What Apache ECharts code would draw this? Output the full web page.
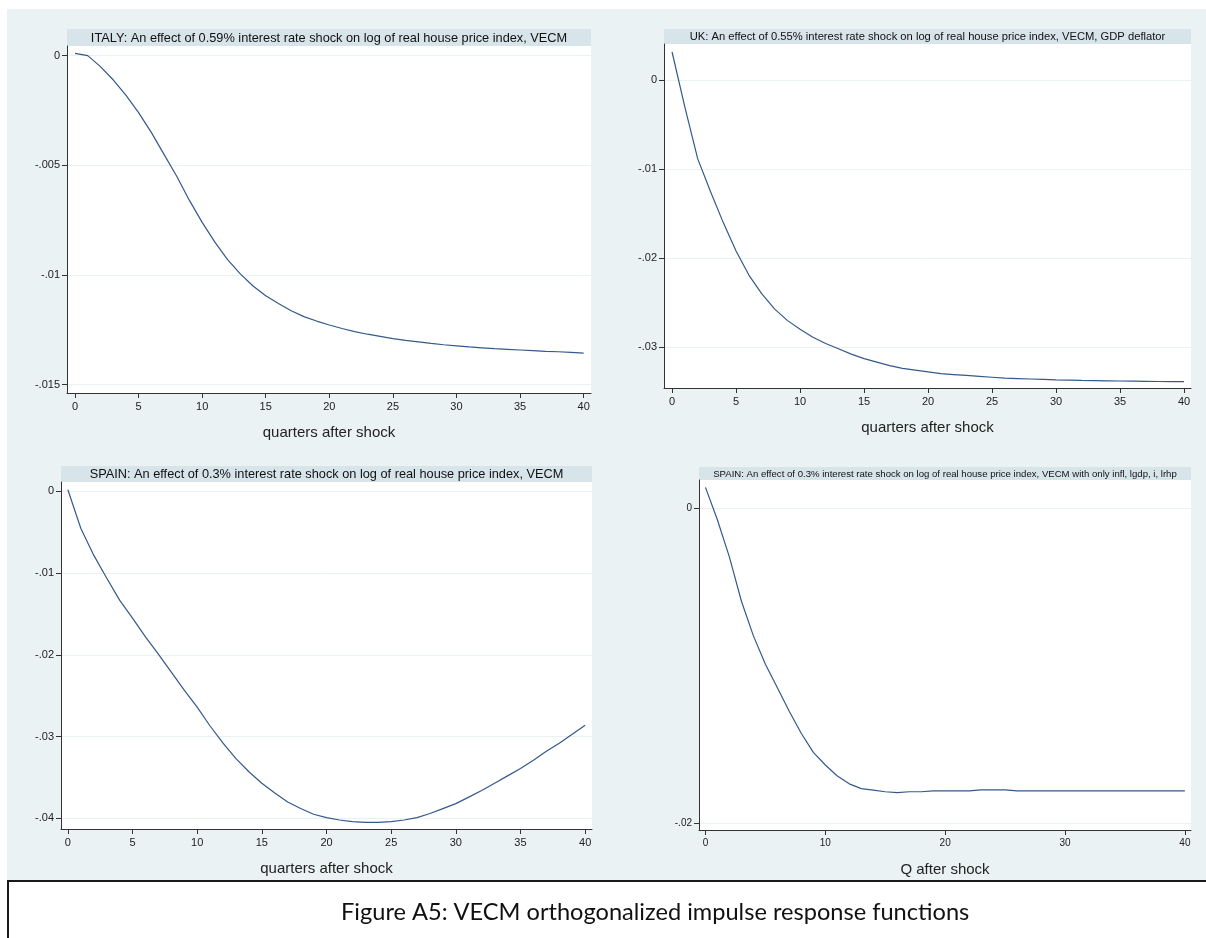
<!DOCTYPE html>
<html>
<head>
<meta charset="utf-8">
<title>VECM impulse responses</title>
<script src="https://cdn.jsdelivr.net/npm/echarts@6/dist/echarts.min.js"></script>
<style>
  html, body { margin: 0; padding: 0; background: #fff; }
  #main { width: 1206px; height: 938px; }
</style>
</head>
<body>
<div id="main"></div>
<script>
// quarters after shock
var quarters = [0, 1, 2, 3, 4, 5, 6, 7, 8, 9, 10, 11, 12, 13, 14, 15, 16, 17, 18, 19, 20,
  21, 22, 23, 24, 25, 26, 27, 28, 29, 30, 31, 32, 33, 34, 35, 36, 37, 38, 39, 40];

var italy = [0.0001, 0.0000, -0.0005, -0.0011, -0.0018, -0.0026, -0.0035, -0.0045, -0.0055, -0.0066,
  -0.0076, -0.0085, -0.0093, -0.00995, -0.0105, -0.01095, -0.0113, -0.01163, -0.0119, -0.0121,
  -0.01228, -0.01244, -0.01258, -0.0127, -0.0128, -0.0129, -0.01298, -0.01305, -0.01312, -0.01318,
  -0.01323, -0.01328, -0.01332, -0.01336, -0.01339, -0.01342, -0.01345, -0.01348, -0.0135, -0.01353, -0.01356];

var uk = [0.0032, -0.0030, -0.0088, -0.0125, -0.0160, -0.0192, -0.0219, -0.0240, -0.0257, -0.0270,
  -0.0280, -0.0289, -0.0296, -0.0302, -0.0308, -0.0313, -0.0317, -0.0321, -0.0324, -0.0326,
  -0.0328, -0.0330, -0.0331, -0.0332, -0.0333, -0.0334, -0.0335, -0.03355, -0.0336, -0.03365,
  -0.0337, -0.03373, -0.03376, -0.03378, -0.0338, -0.03382, -0.03384, -0.03386, -0.03388, -0.03389, -0.0339];

var spain = [0.0002, -0.0045, -0.0078, -0.0106, -0.0133, -0.0155, -0.0178, -0.0199, -0.0221, -0.0243,
  -0.0264, -0.0287, -0.0308, -0.0327, -0.0343, -0.0357, -0.0369, -0.0380, -0.0388, -0.0395,
  -0.0399, -0.0402, -0.0404, -0.0405, -0.0405, -0.0404, -0.0402, -0.0399, -0.0394, -0.0388,
  -0.0382, -0.0374, -0.0366, -0.0357, -0.0348, -0.0339, -0.0329, -0.0318, -0.0308, -0.0297, -0.0286];

var spain2 = [0.00133, -0.00074, -0.0031, -0.0059, -0.0081, -0.0099, -0.0114, -0.0129, -0.0143, -0.0155,
  -0.0163, -0.0170, -0.0175, -0.0178, -0.0179, -0.0180, -0.01806, -0.0180, -0.0180, -0.01795,
  -0.01795, -0.01795, -0.01795, -0.01788, -0.01788, -0.01788, -0.01795, -0.01795, -0.01795, -0.01795,
  -0.01795, -0.01795, -0.01795, -0.01795, -0.01795, -0.01795, -0.01795, -0.01795, -0.01795, -0.01795, -0.01795];

// tick labels
var xTicks5 = [0, 5, 10, 15, 20, 25, 30, 35, 40];
var xTicks10 = [0, 10, 20, 30, 40];
var yTicksItaly = [-0.015, -0.01, -0.005, 0];
var yTicksUk = [-0.03, -0.02, -0.01, 0];
var yTicksSpain = [-0.04, -0.03, -0.02, -0.01, 0];
var yTicksSpain2 = [-0.02, 0];

var titles = [
  "ITALY: An effect of 0.59% interest rate shock on log of real house price index, VECM",
  "UK: An effect of 0.55% interest rate shock on log of real house price index, VECM, GDP deflator",
  "SPAIN: An effect of 0.3% interest rate shock on log of real house price index, VECM",
  "SPAIN: An effect of 0.3% interest rate shock on log of real house price index, VECM with only infl, lgdp, i, lrhp"
];
var xNames = ["quarters after shock", "quarters after shock", "quarters after shock", "Q after shock"];
var caption = "Figure A5: VECM orthogonalized impulse response functions";

var FONT = "Liberation Sans, Arial, sans-serif";
var LINE = "#34598a";
var AXIS = "#333";

// panel layout: plot box in pixels, axis extents
var panels = [
  { left: 67, top: 46, width: 524, height: 347, xMin: -0.63, xMax: 40.58, yMin: -0.01538, yMax: 0.00044,
    xT: xTicks5, yT: yTicksItaly, data: italy, titleSize: 12.75, tickSize: 11, barTop: 29 },
  { left: 664, top: 44, width: 527, height: 344, xMin: -0.63, xMax: 40.54, yMin: -0.03461, yMax: 0.0041,
    xT: xTicks5, yT: yTicksUk, data: uk, titleSize: 11.2, tickSize: 11, barTop: 29 },
  { left: 61, top: 482, width: 531, height: 347, xMin: -0.53, xMax: 40.53, yMin: -0.0413, yMax: 0.00115,
    xT: xTicks5, yT: yTicksSpain, data: spain, titleSize: 12.75, tickSize: 11, barTop: 466 },
  { left: 699, top: 480, width: 492, height: 350, xMin: -0.54, xMax: 40.51, yMin: -0.02043, yMax: 0.0018,
    xT: xTicks10, yT: yTicksSpain2, data: spain2, titleSize: 9.6, tickSize: 10, barTop: 467 }
];

function yFmt(v) {
  if (Math.abs(v) < 1e-12) return "0";
  return String(+v.toFixed(4)).replace("0.", ".");
}

var grids = [], xAxes = [], yAxes = [], series = [];
var graphics = [
  { type: "rect", z: -100, shape: { x: 7, y: 9, width: 1199, height: 872 }, style: { fill: "#eaf2f3" } },
  { type: "line", shape: { x1: 8, y1: 881, x2: 1206, y2: 881 }, style: { stroke: "#1a1a1a", lineWidth: 2 } },
  { type: "line", shape: { x1: 8, y1: 880, x2: 8, y2: 938 }, style: { stroke: "#1a1a1a", lineWidth: 2 } },
  { type: "text", x: 341, y: 912, style: { text: caption, font: "23.6px Lato, 'Open Sans', sans-serif",
      fill: "#111", verticalAlign: "middle", align: "left" } }
];

panels.forEach(function (p, i) {
  grids.push({ left: p.left, top: p.top, width: p.width, height: p.height,
    show: true, backgroundColor: "#fff", borderWidth: 0, containLabel: false });
  xAxes.push({
    type: "value", gridIndex: i, min: p.xMin, max: p.xMax,
    axisLine: { show: true, onZero: false, lineStyle: { color: AXIS, width: 1 } },
    axisTick: { show: true, length: 5, customValues: p.xT, lineStyle: { color: AXIS } },
    axisLabel: { customValues: p.xT, fontFamily: FONT, fontSize: p.tickSize, color: "#222", margin: 8 },
    splitLine: { show: false },
    name: xNames[i], nameLocation: "middle", nameGap: 32,
    nameTextStyle: { fontFamily: FONT, fontSize: 15, color: "#222" }
  });
  yAxes.push({
    type: "value", gridIndex: i, min: p.yMin, max: p.yMax,
    axisLine: { show: true, onZero: false, lineStyle: { color: AXIS, width: 1 } },
    axisTick: { show: true, length: 5, customValues: p.yT, lineStyle: { color: AXIS } },
    axisLabel: { customValues: p.yT, fontFamily: FONT, fontSize: p.tickSize, color: "#222", margin: 7,
      formatter: yFmt },
    splitLine: { show: true, lineStyle: { color: "#e9f1f3", width: 1 } }
  });
  series.push({
    type: "line", xAxisIndex: i, yAxisIndex: i, showSymbol: false, smooth: false,
    data: quarters.map(function (q, k) { return [q, p.data[k]]; }),
    lineStyle: { color: LINE, width: 1.2 }, animation: false
  });
  // title bar above the plot region
  graphics.push({ type: "rect", shape: { x: p.left, y: p.barTop, width: p.width, height: p.top - p.barTop },
    style: { fill: "#d7e4ea" } });
  graphics.push({ type: "text", x: p.left + p.width / 2, y: (p.barTop + p.top) / 2 + 0.5,
    style: { text: titles[i], font: p.titleSize + "px " + FONT, fill: "#111",
      align: "center", verticalAlign: "middle" } });
});

var myChart = echarts.init(document.getElementById("main"));
myChart.setOption({
  animation: false,
  grid: grids,
  xAxis: xAxes,
  yAxis: yAxes,
  series: series,
  graphic: graphics
});
</script>
</body>
</html>
